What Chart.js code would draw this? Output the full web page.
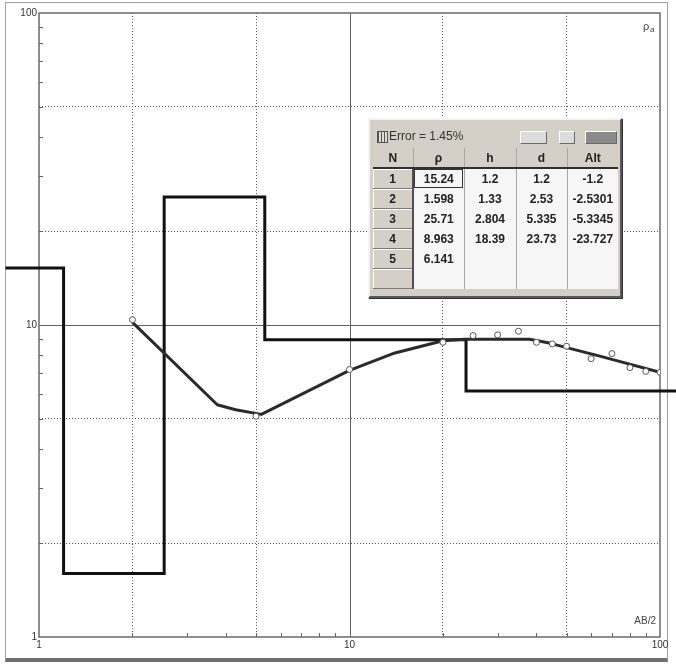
<!DOCTYPE html>
<html lang="en">
<head>
<meta charset="UTF-8">
<title>VES inversion</title>
<script src="https://cdn.jsdelivr.net/npm/chart.js"></script>
<style>
    body { margin: 0; background: #fff; font-family: "Liberation Sans", Arial, sans-serif; }
    #wrap { position: relative; width: 676px; height: 665px; overflow: hidden; }
    #frame {
        position: absolute; left: 5px; top: 2px; width: 661px; height: 655px;
        border: 1px solid #a0a0a0; border-bottom: 4px solid #707070;
    }
    #plot { position: absolute; left: 0; top: 0; }

    /* окно с таблицей слоёв */
    #win {
        position: absolute; left: 368px; top: 118px; width: 250px; height: 176px;
        background: #d4d0c8; border: 2px solid;
        border-color: #f4f4f4 #5a5a5a #5a5a5a #f4f4f4;
        box-shadow: 1px 1px 0 #303030;
    }
    #title { position: absolute; left: 2px; top: 6px; width: 246px; height: 22px; }
    #title .ico {
        position: absolute; left: 5px; top: 5px; width: 9px; height: 10px;
        border: 1px solid #555; background: repeating-linear-gradient(90deg, #555 0 1px, #ddd 1px 3px);
    }
    #title .txt { position: absolute; left: 17px; top: 3px; font-size: 12px; color: #333; }
    #title .btn {
        position: absolute; top: 5px; height: 11px; background: #dcdcdc;
        border: 1px solid; border-color: #fff #6a6a6a #6a6a6a #fff;
    }
    #tbl {
        position: absolute; left: 3px; top: 28px; border-collapse: collapse; table-layout: fixed;
        background: #f6f6f6; font-size: 12px; font-weight: bold; color: #222;
    }
    #tbl td, #tbl th { height: 19px; padding: 0; text-align: center; border-left: 1px solid #a8a8a8; white-space: nowrap; }
    #tbl th { background: #d4d0c8; border-bottom: 2px solid #303030; }
    #tbl td.n {
        background: #d4d0c8; border-right: 2px solid #505050; border-bottom: 1px solid #7a7a7a;
        box-shadow: inset 1px 1px #fff;
    }
    #tbl td.focus { outline: 1px solid #333; outline-offset: -2px; }
</style>
</head>
<body>
<div id="wrap">
    <div id="frame"></div>
    <canvas id="plot" width="676" height="665"></canvas>
    <div id="win">
        <div id="title">
            <div class="ico"></div>
            <div class="txt">Error = 1.45%</div>
            <div class="btn" style="left:148px;width:25px;"></div>
            <div class="btn" style="left:187px;width:14px;"></div>
            <div class="btn" style="left:213px;width:30px;background:#8a8a8a;"></div>
        </div>
        <table id="tbl"></table>
    </div>
</div>

<script>
    // Полевые данные: AB/2 и кажущееся сопротивление
    const ab2 = [2, 5, 10, 20, 25, 30, 35, 40, 45, 50, 60, 70, 80, 90, 100];
    const rhoObs = [10.4, 5.1, 7.2, 8.8, 9.25, 9.3, 9.55, 8.8, 8.7, 8.55, 7.8, 8.1, 7.3, 7.1, 7.05];

    // Теоретическая кривая
    const fitAb2 = [2, 3.75, 4.3, 5.2, 10, 13.8, 20, 23.5, 38, 44, 64, 100];
    const fitRho = [10.2, 5.55, 5.35, 5.17, 7.15, 8.1, 8.9, 9.0, 9.0, 8.75, 7.95, 7.05];

    // Модель слоёв (таблица)
    const layerRho = [15.24, 1.598, 25.71, 8.963, 6.141];
    const layerH = [1.2, 1.33, 2.804, 18.39];
    const layerD = [1.2, 2.53, 5.335, 23.73];
    const layerAlt = [-1.2, -2.5301, -5.3345, -23.727];

    const gridVals = [1, 2, 5, 10, 20, 50, 100];
    const dottedVals = [2, 5, 20, 50];
    const decadeLabels = [1, 10, 100];
    const stepStart = 0.78, stepEnd = 113;

    // Ступенчатая модель из ρ и глубин
    const stepPts = [{x: stepStart, y: layerRho[0]}];
    layerD.forEach((d, i) => {
        stepPts.push({x: d, y: layerRho[i]});
        stepPts.push({x: d, y: layerRho[i + 1]});
    });
    stepPts.push({x: stepEnd, y: layerRho[layerRho.length - 1]});

    // Таблица
    const tbl = document.getElementById('tbl');
    const widths = [40, 51, 52, 51, 51];
    let html = '<colgroup>' + widths.map(w => `<col style="width:${w}px">`).join('') + '</colgroup>';
    html += '<tr><th style="border-left:none">N</th><th>ρ</th><th>h</th><th>d</th><th>Alt</th></tr>';
    for (let i = 0; i < 6; i++) {
        const v = (arr) => (i < arr.length ? arr[i] : '');
        html += `<tr><td class="n" style="border-left:none">${i < layerRho.length ? i + 1 : ''}</td>` +
            `<td class="${i === 0 ? 'focus' : ''}" style="border-left:none">${v(layerRho)}</td>` +
            `<td>${v(layerH)}</td><td>${v(layerD)}</td><td>${v(layerAlt)}</td></tr>`;
    }
    tbl.innerHTML = html;

    // Сплошные линии на 10, мелкие засечки, рамка и подписи осей
    const framePlugin = {
        id: 'frame',
        beforeDatasetsDraw(chart) {
            const {ctx, chartArea: a, scales: {x, y}} = chart;
            ctx.save();
            ctx.strokeStyle = '#606060';
            ctx.lineWidth = 1;
            const x10 = Math.round(x.getPixelForValue(10)) + 0.5;
            const y10 = Math.round(y.getPixelForValue(10)) + 0.5;
            ctx.beginPath();
            ctx.moveTo(x10, a.top); ctx.lineTo(x10, a.bottom);
            ctx.moveTo(a.left, y10); ctx.lineTo(a.right, y10);
            ctx.stroke();

            ctx.strokeStyle = '#666';
            ctx.beginPath();
            [1, 10].forEach(dec => {
                for (let k = 2; k <= 9; k++) {
                    const v = dec * k;
                    const px = Math.round(x.getPixelForValue(v)) + 0.5;
                    ctx.moveTo(px, a.bottom); ctx.lineTo(px, a.bottom - 4);
                    const py = Math.round(y.getPixelForValue(v)) + 0.5;
                    ctx.moveTo(a.left, py); ctx.lineTo(a.left + 4, py);
                }
            });
            ctx.stroke();

            ctx.strokeStyle = '#6a6a6a';
            ctx.lineWidth = 1.5;
            ctx.strokeRect(a.left, a.top, a.right - a.left, a.bottom - a.top);
            ctx.restore();
        },
        afterDraw(chart) {
            const {ctx, chartArea: a} = chart;
            ctx.save();
            ctx.fillStyle = '#444';
            ctx.textBaseline = 'middle';
            ctx.font = '10px "Liberation Sans", Arial, sans-serif';
            ctx.textAlign = 'right';
            ctx.fillText('AB/2', a.right - 4, a.bottom - 16);
            ctx.textAlign = 'left';
            ctx.font = '11px "Liberation Sans", Arial, sans-serif';
            ctx.fillText('ρ', a.right - 17, a.top + 14);
            ctx.font = '8px "Liberation Sans", Arial, sans-serif';
            ctx.fillText('a', a.right - 10, a.top + 17);
            ctx.restore();
        }
    };

    const tickFont = {family: '"Liberation Sans", Arial, sans-serif', size: 10};
    const gridColor = (c) => (c.tick && dottedVals.includes(c.tick.value)) ? '#555' : 'rgba(0,0,0,0)';

    new Chart(document.getElementById('plot'), {
        type: 'scatter',
        data: {
            datasets: [
                {
                    label: 'obs',
                    data: ab2.map((v, i) => ({x: v, y: rhoObs[i]})),
                    showLine: false,
                    pointRadius: 3,
                    pointBackgroundColor: '#fff',
                    pointBorderColor: '#555',
                    pointBorderWidth: 1
                },
                {
                    label: 'fit',
                    data: fitAb2.map((v, i) => ({x: v, y: fitRho[i]})),
                    showLine: true,
                    borderColor: '#2a2a2a',
                    borderWidth: 3,
                    borderJoinStyle: 'round',
                    pointRadius: 0,
                    tension: 0
                },
                {
                    label: 'model',
                    data: stepPts,
                    showLine: true,
                    borderColor: '#111',
                    borderWidth: 3,
                    pointRadius: 0,
                    tension: 0,
                    clip: false
                }
            ]
        },
        options: {
            responsive: false,
            animation: false,
            layout: {padding: {left: 0, top: 13, right: 16, bottom: 0}},
            plugins: {legend: {display: false}, tooltip: {enabled: false}},
            scales: {
                x: {
                    type: 'logarithmic', min: 1, max: 100,
                    afterBuildTicks: s => { s.ticks = gridVals.map(v => ({value: v})); },
                    afterFit: s => { s.height = 28; },
                    ticks: {
                        autoSkip: false, maxRotation: 0, padding: 2, color: '#333', font: tickFont,
                        callback: v => decadeLabels.includes(v) ? String(v) : ''
                    },
                    grid: {color: gridColor, drawTicks: false, lineWidth: 1},
                    border: {display: false, dash: [1, 2]}
                },
                y: {
                    type: 'logarithmic', min: 1, max: 100,
                    afterBuildTicks: s => { s.ticks = gridVals.map(v => ({value: v})); },
                    afterFit: s => { s.width = 39; },
                    ticks: {
                        autoSkip: false, padding: 2, color: '#333', font: tickFont,
                        callback: v => decadeLabels.includes(v) ? String(v) : ''
                    },
                    grid: {color: gridColor, drawTicks: false, lineWidth: 1},
                    border: {display: false, dash: [1, 2]}
                }
            }
        },
        plugins: [framePlugin]
    });
</script>
</body>
</html>
